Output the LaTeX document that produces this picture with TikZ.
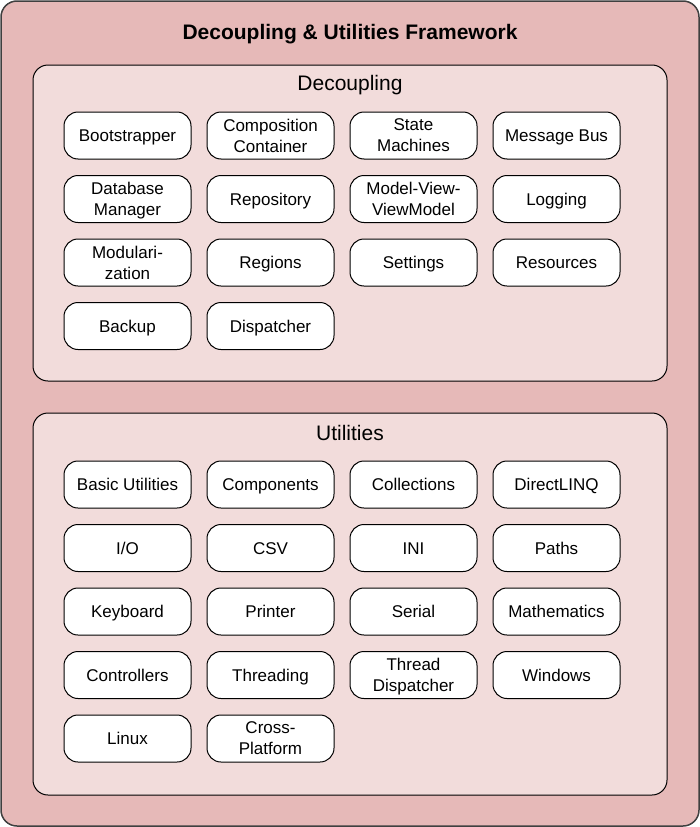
\documentclass[tikz,border=0pt]{standalone}
\usepackage{fontspec}
\setmainfont{Liberation Sans}
\definecolor{outerpink}{HTML}{E6B9B8}
\definecolor{innerpink}{HTML}{F2DCDB}
\definecolor{frameline}{HTML}{404040}
\tikzset{
  modulebase/.style={draw=black, fill=white, line width=1pt, rounded corners=14pt,
    minimum width=127pt, minimum height=47pt, inner sep=0pt, align=center,
    font=\fontsize{17}{21}\selectfont},
  module/.style={modulebase, text height=12.2pt, text depth=0pt},
  modulewrap/.style={modulebase},
  group/.style={draw=black, fill=innerpink, line width=1pt, rounded corners=15pt,
    minimum width=634pt, inner sep=0pt},
  grouptitle/.style={font=\fontsize{21}{25}\selectfont, inner sep=0pt,
    text height=15pt, text depth=0pt}
}
\begin{document}
\begin{tikzpicture}[x=1pt, y=-1pt]
  \useasboundingbox (0,0) rectangle (700,827);
  \draw[fill=outerpink, draw=frameline, line width=1.5pt, rounded corners=16pt]
    (1,1) rectangle (699,826);
  \node[font=\fontsize{21}{25}\selectfont\bfseries, inner sep=0pt,
    text height=15pt, text depth=0pt] (title) at (350,32)
    {Decoupling \& Utilities Framework};

  % decoupling group
  \node[group, minimum height=316pt] (decoupling) at (350,223) {};
  \node[grouptitle] (decouplingtitle) at (350,83) {Decoupling};
  \node[module] (bootstrapper) at (127.5,135.5) {Bootstrapper};
  \node[modulewrap] (container) at (270.5,135.5) {Composition\\\smash{Container}};
  \node[modulewrap] (statemachines) at (413.5,135.5) {State\\\smash{Machines}};
  \node[module] (messagebus) at (556.5,135.5) {Message Bus};
  \node[modulewrap] (database) at (127.5,199) {Database\\\smash{Manager}};
  \node[module] (repository) at (270.5,199) {Repository};
  \node[modulewrap] (mvvm) at (413.5,199) {Model-View-\\\smash{ViewModel}};
  \node[module] (logging) at (556.5,199) {Logging};
  \node[modulewrap] (modularization) at (127.5,262.5) {Modulari-\\\smash{zation}};
  \node[module] (regions) at (270.5,262.5) {Regions};
  \node[module] (settings) at (413.5,262.5) {Settings};
  \node[module] (resources) at (556.5,262.5) {Resources};
  \node[module] (backup) at (127.5,326) {Backup};
  \node[module] (dispatcher) at (270.5,326) {Dispatcher};

  % utilities group
  \node[group, minimum height=382pt] (utilities) at (350,604) {};
  \node[grouptitle] (utilitiestitle) at (350,433) {Utilities};
  \node[module] (basicutilities) at (127.5,484.5) {Basic Utilities};
  \node[module] (components) at (270.5,484.5) {Components};
  \node[module] (collections) at (413.5,484.5) {Collections};
  \node[module] (directlinq) at (556.5,484.5) {DirectLINQ};
  \node[module] (io) at (127.5,548) {I/O};
  \node[module] (csv) at (270.5,548) {CSV};
  \node[module] (ini) at (413.5,548) {INI};
  \node[module] (paths) at (556.5,548) {Paths};
  \node[module] (keyboard) at (127.5,611.5) {Keyboard};
  \node[module] (printer) at (270.5,611.5) {Printer};
  \node[module] (serial) at (413.5,611.5) {Serial};
  \node[module] (mathematics) at (556.5,611.5) {Mathematics};
  \node[module] (controllers) at (127.5,675) {Controllers};
  \node[module] (threading) at (270.5,675) {Threading};
  \node[modulewrap] (threaddispatcher) at (413.5,675) {Thread\\\smash{Dispatcher}};
  \node[module] (windows) at (556.5,675) {Windows};
  \node[module] (linux) at (127.5,738.5) {Linux};
  \node[modulewrap] (crossplatform) at (270.5,738.5) {Cross-\\\smash{Platform}};
\end{tikzpicture}
\end{document}
